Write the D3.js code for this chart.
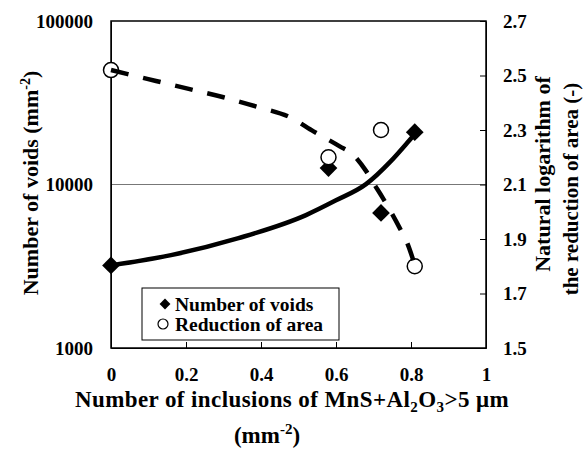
<!DOCTYPE html>
<html>
<head>
<meta charset="utf-8">
<script src="https://cdn.jsdelivr.net/npm/d3@7"></script>
<style>
  body { margin: 0; background: #fff; }
  text { font-family: "Liberation Serif", "Times New Roman", serif; font-weight: bold; fill: #000; }
  .axis path, .axis line { stroke: #000; }
</style>
</head>
<body>
<script>
// measured points
var inclusions = [0, 0.58, 0.72, 0.81];
var voids = [3200, 12600, 6700, 20900];
var reduction = [2.52, 2.20, 2.30, 1.80];

// trend lines
var voidsTrendX = [0, 0.16, 0.34, 0.52, 0.60, 0.68, 0.745, 0.79, 0.815];
var voidsTrendY = [3200, 3700, 4700, 6500, 8000, 10050, 13800, 18000, 21000];
var reductionTrendX = [0, 0.12, 0.21, 0.30, 0.39, 0.48, 0.54, 0.61, 0.645, 0.68, 0.70, 0.725, 0.77, 0.79, 0.81];
var reductionTrendY = [2.52, 2.48, 2.45, 2.42, 2.385, 2.345, 2.295, 2.24, 2.21, 2.15, 2.105, 2.05, 1.94, 1.885, 1.805];

// tick labels
var xTicks = [0, 0.2, 0.4, 0.6, 0.8, 1];
var leftTicks = [1000, 10000, 100000];
var rightTicks = [1.5, 1.7, 1.9, 2.1, 2.3, 2.5, 2.7];

var w = 584, h = 450;
var m = {left: 111, right: 486, top: 21, bottom: 348};

var svg = d3.select("body").append("svg")
            .attr("width", w)
            .attr("height", h);

var x = d3.scaleLinear().domain([0, 1]).range([m.left, m.right]);
var yL = d3.scaleLog().domain([1000, 100000]).range([m.bottom, m.top]);
var yR = d3.scaleLinear().domain([1.5, 2.7]).range([m.bottom, m.top]);

// gridline at 10000
svg.append("line")
   .attr("x1", m.left).attr("x2", m.right)
   .attr("y1", yL(10000)).attr("y2", yL(10000))
   .attr("stroke", "#777").attr("stroke-width", 1);

// axes
svg.append("g")
   .attr("class", "axis")
   .attr("transform", "translate(0," + m.bottom + ")")
   .call(d3.axisBottom(x).tickValues(xTicks).tickFormat(d3.format("")).tickSizeInner(-6).tickSizeOuter(0).tickPadding(20))
   .call(function(g) { g.selectAll("text").style("font-size", "19px"); });

svg.append("g")
   .attr("class", "axis")
   .attr("transform", "translate(" + m.left + ",0)")
   .call(d3.axisLeft(yL).tickValues(leftTicks).tickFormat(d3.format("d")).tickSize(0).tickPadding(18))
   .call(function(g) { g.selectAll("text").style("font-size", "19px"); });

svg.append("g")
   .attr("class", "axis")
   .attr("transform", "translate(" + m.right + ",0)")
   .call(d3.axisRight(yR).tickValues(rightTicks).tickFormat(d3.format(".1f")).tickSizeInner(-6).tickSizeOuter(0).tickPadding(17))
   .call(function(g) { g.selectAll("text").style("font-size", "19px"); });

// frame
svg.append("rect")
   .attr("x", m.left).attr("y", m.top)
   .attr("width", m.right - m.left).attr("height", m.bottom - m.top)
   .attr("fill", "none").attr("stroke", "#000").attr("stroke-width", 1.5);

// markers
var diamond = d3.symbol().type(d3.symbolDiamond2).size(200);
svg.selectAll(".void")
   .data(inclusions)
   .enter()
   .append("path")
   .attr("class", "void")
   .attr("d", diamond)
   .attr("transform", function(d, i) { return "translate(" + x(d) + "," + yL(voids[i]) + ")"; })
   .attr("fill", "#000");

svg.selectAll(".ra")
   .data(inclusions)
   .enter()
   .append("circle")
   .attr("class", "ra")
   .attr("cx", function(d) { return x(d); })
   .attr("cy", function(d, i) { return yR(reduction[i]); })
   .attr("r", 7.5)
   .attr("fill", "#fff")
   .attr("stroke", "#000")
   .attr("stroke-width", 1.5);

// trend lines
var voidLine = d3.line()
                 .x(function(d, i) { return x(voidsTrendX[i]); })
                 .y(function(d) { return yL(d); })
                 .curve(d3.curveMonotoneX);
svg.append("path")
   .attr("d", voidLine(voidsTrendY))
   .attr("fill", "none").attr("stroke", "#000").attr("stroke-width", 4.5);

var raLine = d3.line()
               .x(function(d, i) { return x(reductionTrendX[i]); })
               .y(function(d) { return yR(d); })
               .curve(d3.curveMonotoneX);
svg.append("path")
   .attr("d", raLine(reductionTrendY))
   .attr("fill", "none").attr("stroke", "#000").attr("stroke-width", 4.5)
   .attr("stroke-dasharray", "18,15");

// legend
var legend = svg.append("g").attr("class", "legend");
legend.append("rect")
      .attr("x", 142).attr("y", 288)
      .attr("width", 197).attr("height", 52)
      .attr("fill", "#fff").attr("stroke", "#000").attr("stroke-width", 1);
legend.append("path")
      .attr("d", d3.symbol().type(d3.symbolDiamond2).size(75))
      .attr("transform", "translate(165,304)");
legend.append("circle")
      .attr("cx", 163).attr("cy", 324).attr("r", 5)
      .attr("fill", "#fff").attr("stroke", "#000").attr("stroke-width", 1.2);
legend.append("text").attr("x", 175).attr("y", 311).style("font-size", "19.5px").text("Number of voids");
legend.append("text").attr("x", 175).attr("y", 331).style("font-size", "19.5px").text("Reduction of area");

// x axis title
var xt = svg.append("text")
            .attr("x", 292).attr("y", 407)
            .attr("text-anchor", "middle")
            .style("font-size", "23px")
            .style("letter-spacing", "0.4px");
xt.append("tspan").text("Number of inclusions of MnS+Al");
xt.append("tspan").attr("dy", 5).style("font-size", "15px").text("2");
xt.append("tspan").attr("dy", -5).text("O");
xt.append("tspan").attr("dy", 5).style("font-size", "15px").text("3");
xt.append("tspan").attr("dy", -5).text(">5 \u03bcm");

var xt2 = svg.append("text")
             .attr("x", 267).attr("y", 443)
             .attr("text-anchor", "middle")
             .style("font-size", "23px");
xt2.append("tspan").text("(mm");
xt2.append("tspan").attr("dy", -9).style("font-size", "15px").text("-2");
xt2.append("tspan").attr("dy", 9).text(")");

// left title
var yt = svg.append("text")
            .attr("transform", "translate(38,183) rotate(-90)")
            .attr("text-anchor", "middle")
            .style("font-size", "22px");
yt.append("tspan").text("Number of voids (mm");
yt.append("tspan").attr("dy", -8).style("font-size", "14px").text("-2");
yt.append("tspan").attr("dy", 8).text(")");

// right title
svg.append("text")
   .attr("transform", "translate(550,174) rotate(-90)")
   .attr("text-anchor", "middle")
   .style("font-size", "22px")
   .text("Natural logarithm of");
svg.append("text")
   .attr("transform", "translate(578,189) rotate(-90)")
   .attr("text-anchor", "middle")
   .style("font-size", "21px")
   .text("the reduction of area (-)");
</script>
</body>
</html>
